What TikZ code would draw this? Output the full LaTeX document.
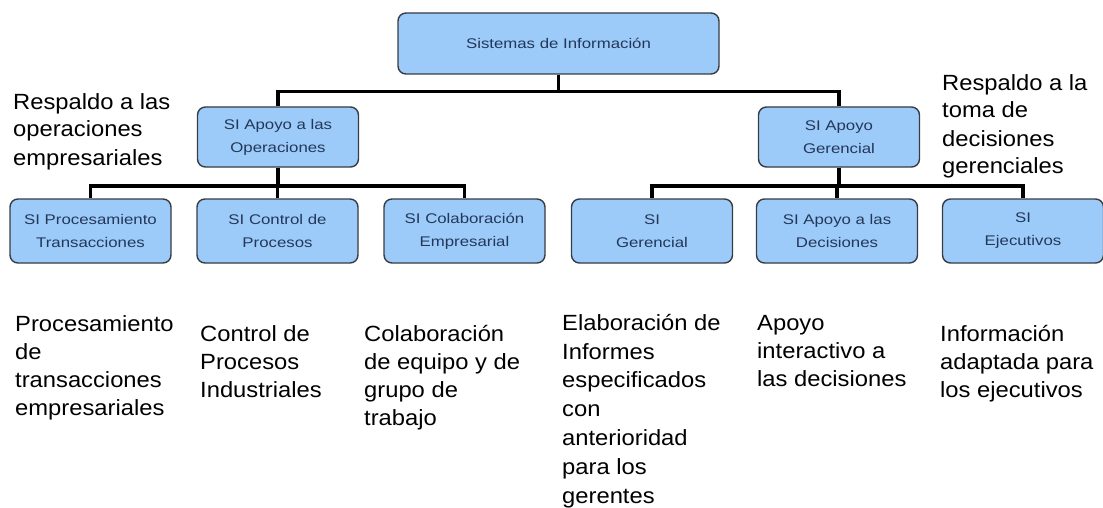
\documentclass[tikz,border=0pt]{standalone}
\usepackage{fontspec}
\setmainfont{Liberation Sans}
\newfontfamily\boxfont[FakeStretch=1.2]{Liberation Sans}
\newfontfamily\notefont[FakeStretch=1.08]{Liberation Sans}
\usetikzlibrary{positioning}
\definecolor{sifill}{RGB}{156,203,250}
\definecolor{siedge}{RGB}{55,60,68}
\definecolor{sitext}{RGB}{35,55,88}
\tikzset{
  sibox/.style={rounded corners=8pt, draw=siedge, fill=sifill, line width=1.4pt,
                align=center, inner sep=0pt, minimum width=161pt, minimum height=64pt,
                text=sitext, font=\boxfont\fontsize{14}{23}\selectfont},
  % anchor base = baseline of the last line
  note/.style={align=left, anchor=base west, inner sep=0pt,
               font=\notefont\fontsize{22}{28}\selectfont},
  tree/.style={line width=3.6pt, draw=black},
}

\begin{document}
\begin{tikzpicture}[x=1pt, y=-1pt]
    \useasboundingbox (0,0) rectangle (1103,508);
    % boxes
    \node[sibox, minimum width=321pt, minimum height=61pt] (si) at (558.5,43.5) {Sistemas de Información};
    \node[sibox, minimum height=60pt] (op) at (278,137) {SI Apoyo a las\\Operaciones};
    \node[sibox, minimum height=60pt] (ger) at (839,137) {SI Apoyo\\Gerencial};
    \node[sibox] (tps) at (90.5,231) {SI Procesamiento\\Transacciones};
    \node[sibox] (cp) at (277.5,231) {SI Control de\\Procesos};
    \node[sibox] (ce) at (464.5,231) {SI Colaboración\\Empresarial};
    \node[sibox] (sg) at (652,231) {SI\\Gerencial};
    \node[sibox] (sad) at (837,231) {SI Apoyo a las\\Decisiones};
    \node[sibox] (se) at (1023,231) {SI\\Ejecutivos};
    % tree lines
    \draw[tree] (si.south) -- ++(0,17) -| (op.north);
    \draw[tree] (si.south) -- ++(0,17) -| (ger.north);
    \foreach \k in {tps,cp,ce} \draw[tree] (op.south) -- ++(0,18) -| (\k.north);
    \foreach \k in {sg,sad,se} \draw[tree] (ger.south) -- ++(0,18) -| (\k.north);
    % side notes
    \node[note] (nop) at (13,165) {Respaldo a las\\operaciones\\empresariales};
    \node[note] (nger) at (942,174) {Respaldo a la\\toma de\\decisiones\\gerenciales};
    \node[note] (dtps) at (15,415) {Procesamiento\\de\\transacciones\\empresariales};
    \node[note] (dcp) at (200,397) {Control de\\Procesos\\Industriales};
    \node[note] (dce) at (364,425) {Colaboración\\de equipo y de\\grupo de\\trabajo};
    \node[note, font=\notefont\fontsize{22}{28.8}\selectfont] (dsg) at (562,503) {Elaboración de\\Informes\\especificados\\con\\anterioridad\\para los\\gerentes};
    \node[note] (dsad) at (757,386) {Apoyo\\interactivo a\\las decisiones};
    \node[note] (dse) at (940,397) {Información\\adaptada para\\los ejecutivos};
\end{tikzpicture}
\end{document}
